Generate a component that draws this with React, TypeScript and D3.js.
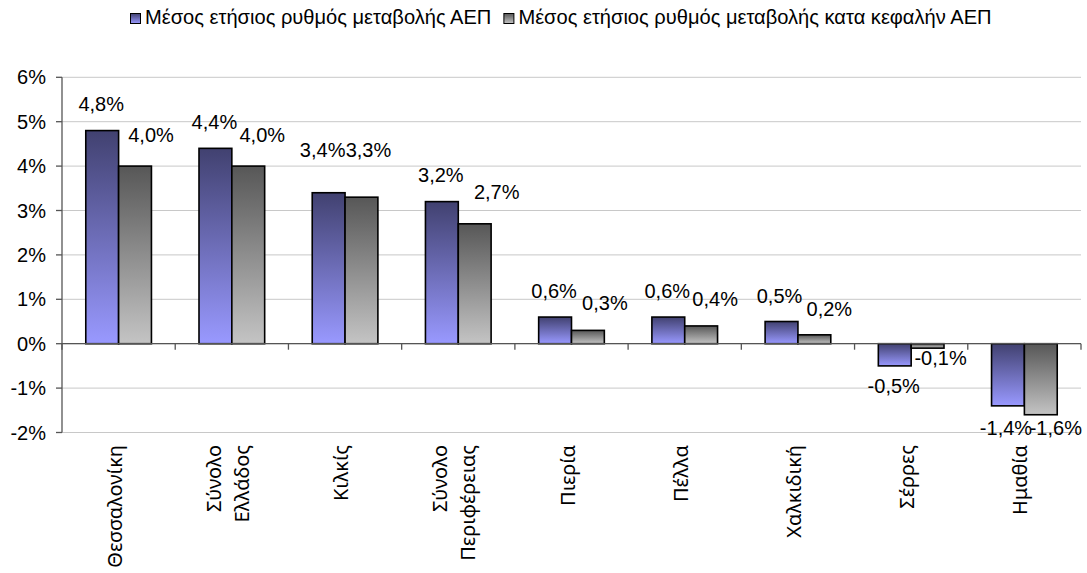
import React, { useLayoutEffect, useRef, useState } from "react";
import * as d3 from "d3";

// values (percent)
const categories = [
  ["Θεσσαλονίκη"],
  ["Σύνολο", "Ελλάδος"],
  ["Κιλκίς"],
  ["Σύνολο", "Περιφέρειας"],
  ["Πιερία"],
  ["Πέλλα"],
  ["Χαλκιδική"],
  ["Σέρρες"],
  ["Ημαθία"],
];
const gdpGrowth = [4.8, 4.4, 3.4, 3.2, 0.6, 0.6, 0.5, -0.5, -1.4];
const perCapitaGrowth = [4.0, 4.0, 3.3, 2.7, 0.3, 0.4, 0.2, -0.1, -1.6];
const seriesNames = [
  "Μέσος ετήσιος ρυθμός μεταβολής ΑΕΠ",
  "Μέσος ετήσιος ρυθμός μεταβολής κατα κεφαλήν ΑΕΠ",
];
const yTicks = [-2, -1, 0, 1, 2, 3, 4, 5, 6];

// hand placed label nudges (px) like in the original sheet
const labelDx = [
  [-1, 16], [-1, 14], [-6, 7], [-1, 22], [-1, 17], [-1, 14], [-2, 15], [-1, 13], [-2, 15],
];
const labelDy = [
  [-27, -31], [-26, -31], [-43, -47], [-27, -32], [-26, -27], [-26, -27], [-26, -26], [20, 10], [22, 13],
];

const W = 1087;
const H = 573;
const left = 62;
const right = 1081;
const top = 77.3;
const bottom = 432.5;

const numFont = "'Liberation Sans', Arial, sans-serif";
const catFont = "'Noto Sans', 'DejaVu Sans', sans-serif";

const grads = [
  { id: "g-blue", from: "#414170", to: "#9999ff" },
  { id: "g-gray", from: "#575757", to: "#c4c4c4" },
];

export default function App() {
  const series = [gdpGrowth, perCapitaGrowth];
  const firstRef = useRef<SVGTextElement>(null);
  const [w1, setW1] = useState(360);

  useLayoutEffect(() => {
    if (firstRef.current) setW1(firstRef.current.getComputedTextLength());
  }, []);

  const x0 = d3
    .scaleBand<number>()
    .domain(d3.range(categories.length))
    .range([left, right])
    .paddingInner(0.42)
    .paddingOuter(0.21);
  const x1 = d3.scaleBand<number>().domain([0, 1]).range([0, x0.bandwidth()]);
  const y = d3.scaleLinear().domain([-2, 6]).range([bottom, top]);
  const step = x0.step();
  const fmt = (v: number) => v.toFixed(1).replace(".", ",") + "%";

  const sq2 = 145 + w1 + 12;

  return (
    <div style={{ position: "absolute", left: 0, top: 0 }}>
      <svg width={W} height={H} style={{ display: "block", background: "#fff" }}>
        <defs>
          {grads.map((g) => (
            <linearGradient key={g.id} id={g.id} x1="0" y1="0" x2="0" y2="1">
              <stop offset="0%" stopColor={g.from} />
              <stop offset="100%" stopColor={g.to} />
            </linearGradient>
          ))}
        </defs>

        {/* legend */}
        <g fontFamily={numFont} fontSize={20.1} fill="#000">
          <rect x={130.5} y={13.5} width={10} height={10} fill="url(#g-blue)" stroke="#000" strokeWidth={1} />
          <text ref={firstRef} x={145} y={24}>{seriesNames[0]}</text>
          <rect x={sq2 + 0.5} y={13.5} width={10} height={10} fill="url(#g-gray)" stroke="#000" strokeWidth={1} />
          <text x={sq2 + 15} y={24}>{seriesNames[1]}</text>
        </g>

        {/* grid */}
        {yTicks.map((t) => (
          <line key={t} x1={left} x2={right} y1={y(t)} y2={y(t)} stroke="#c8c8c8" strokeWidth={1} />
        ))}

        {/* bars */}
        {categories.map((_, i) => (
          <g key={i} transform={`translate(${x0(i)},0)`}>
            {series.map((s, j) => {
              const v = s[i];
              return (
                <rect
                  key={j}
                  x={x1(j)}
                  y={Math.min(y(v), y(0))}
                  width={x1.bandwidth()}
                  height={Math.abs(y(v) - y(0))}
                  fill={`url(#${grads[j].id})`}
                  stroke="#000"
                  strokeWidth={1.6}
                />
              );
            })}
          </g>
        ))}

        {/* axes */}
        <line x1={left} x2={left} y1={top} y2={bottom} stroke="#555" strokeWidth={1.3} />
        {yTicks.map((t) => (
          <g key={t}>
            <line x1={left - 6} x2={left} y1={y(t)} y2={y(t)} stroke="#555" strokeWidth={1.3} />
            <text
              x={left - 16}
              y={y(t)}
              dy="0.35em"
              textAnchor="end"
              fontFamily={numFont}
              fontSize={20}
            >
              {t}%
            </text>
          </g>
        ))}
        <line x1={left} x2={right} y1={y(0)} y2={y(0)} stroke="#555" strokeWidth={1.3} />
        {d3.range(categories.length + 1).map((k) => (
          <line
            key={k}
            x1={left + k * step}
            x2={left + k * step}
            y1={y(0)}
            y2={y(0) + 6}
            stroke="#555"
            strokeWidth={1.3}
          />
        ))}

        {/* data labels */}
        {categories.map((_, i) =>
          series.map((s, j) => {
            const v = s[i];
            const cx = (x0(i) ?? 0) + (x1(j) ?? 0) + x1.bandwidth() / 2 + labelDx[i][j];
            const cy = y(v) + labelDy[i][j];
            return (
              <text
                key={`${i}-${j}`}
                x={cx}
                y={cy}
                dy="0.35em"
                textAnchor="middle"
                fontFamily={numFont}
                fontSize={20}
              >
                {fmt(v)}
              </text>
            );
          })
        )}

        {/* category labels */}
        {categories.map((lines, i) => {
          const cx = (x0(i) ?? 0) + x0.bandwidth() / 2 - 4;
          const lh = 28;
          return lines.map((ln, k) => (
            <text
              key={`${i}-${k}`}
              transform={`translate(${cx + (k - (lines.length - 1) / 2) * lh},445) rotate(-90)`}
              dy="0.35em"
              textAnchor="end"
              fontFamily={catFont}
              fontSize={20}
            >
              {ln}
            </text>
          ));
        })}
      </svg>
    </div>
  );
}
